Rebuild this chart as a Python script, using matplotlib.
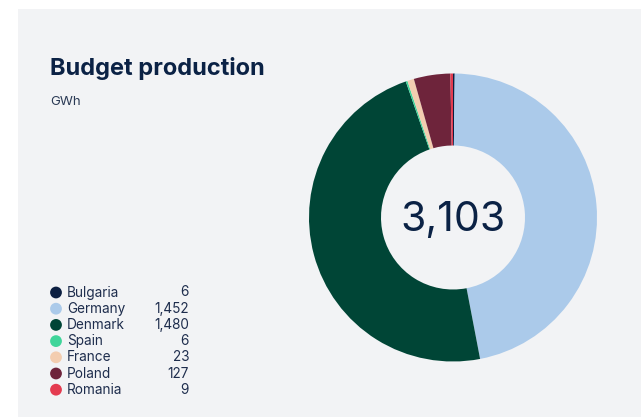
import numpy as np
import matplotlib.pyplot as plt
from matplotlib.patches import Rectangle

# data
countries = ["Bulgaria", "Germany", "Denmark", "Spain", "France", "Poland", "Romania"]
values = [6, 1452, 1480, 6, 23, 127, 9]
colors = ["#0c1f42", "#abcaea", "#004536", "#3fd59a", "#f3cdb0", "#6e243b", "#e43b50"]
total_label = "3,103"
title = "Budget production"
unit = "GWh"

W, H = 641, 417
bg = "#f2f3f5"
navy = "#0b2245"

plt.rcParams['font.family'] = ['Inter', 'DejaVu Sans']

fig = plt.figure(figsize=(W / 100, H / 100), dpi=100)
fig.patch.set_facecolor("white")

def px(x0, y0, x1, y1):
  # pixel box (top-left origin) -> figure fraction rect
  return [x0 / W, 1 - y1 / H, (x1 - x0) / W, (y1 - y0) / H]

# grey card
fig.patches.append(Rectangle((18 / W, 0), 1, 1 - 9 / H, transform=fig.transFigure,
                             facecolor=bg, edgecolor="none", zorder=-1))

# donut
ax = fig.add_axes(px(309, 73.5, 597, 361.5))
ax.pie(values, colors=colors, startangle=90, counterclock=False,
       radius=1, wedgeprops=dict(width=0.5, edgecolor="none"))
ax.set_xlim(-1, 1)
ax.set_ylim(-1, 1)
ax.set_aspect("equal")
ax.axis("off")
ax.text(0, -0.02, total_label, ha="center", va="center", fontsize=29.5,
        fontweight="normal", color=navy)

# title
fig.text(50 / W, 1 - 75 / H, title, fontsize=17, fontweight="bold", color=navy)
fig.text(50 / W, 1 - 105 / H, unit, fontsize=9.5, color="#2b3a55")

# legend
step = 16.2
n = len(countries)
lax = fig.add_axes(px(50, 292.5 - step / 2, 195, 292.5 - step / 2 + n * step))
lax.set_xlim(0, 145)
lax.set_ylim(n - 0.5, -0.5)
lax.axis("off")
idx = np.arange(n)
lax.scatter(np.full(n, 6), idx, s=72, c=colors, edgecolors="none")
for i in idx:
  lax.text(17, i, countries[i], va="center", ha="left", fontsize=9.8, color="#1e2d4d")
  lax.text(139, i, "{:,}".format(values[i]), va="center", ha="right", fontsize=9.8, color="#1e2d4d")

fig.savefig("out.png", dpi=100, facecolor=fig.get_facecolor())
